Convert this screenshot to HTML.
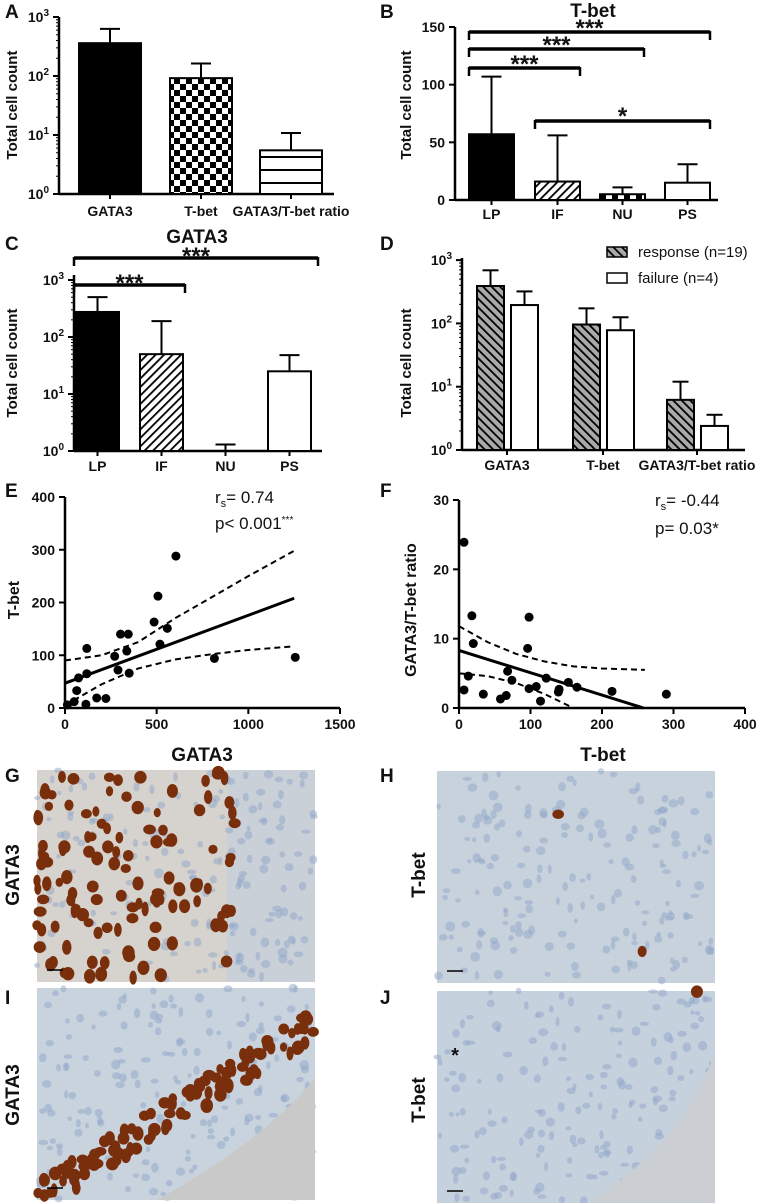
<!DOCTYPE html>
<html><head><meta charset="utf-8"><style>
body{margin:0;background:#fff}
svg{display:block}
text{font-family:"Liberation Sans Narrow","Liberation Sans",sans-serif;font-weight:bold;fill:#111}
.lt{font-family:"Liberation Sans",sans-serif;font-weight:bold}
.nw{font-family:"Liberation Sans Narrow","Liberation Sans",sans-serif;font-weight:normal}
</style></head><body>
<svg id="fig" width="761" height="1203" viewBox="0 0 761 1203">
<defs>
<pattern id="checker" width="12" height="12" patternUnits="userSpaceOnUse"><rect width="12" height="12" fill="#fff"/><rect width="6" height="6" fill="#000"/><rect x="6" y="6" width="6" height="6" fill="#000"/></pattern>
<pattern id="hstripe" width="10" height="13" patternUnits="userSpaceOnUse"><rect width="10" height="13" fill="#fff"/><rect y="0" width="10" height="2" fill="#000"/></pattern>
<pattern id="hatch" width="6" height="6" patternUnits="userSpaceOnUse" patternTransform="rotate(45)"><rect width="6" height="6" fill="#fff"/><rect width="1.8" height="6" fill="#000"/></pattern>
<pattern id="ghatch" width="6" height="6" patternUnits="userSpaceOnUse" patternTransform="rotate(-45)"><rect width="6" height="6" fill="#aaa"/><rect width="1.8" height="6" fill="#000"/></pattern>
<pattern id="nupat" width="12" height="12" patternUnits="userSpaceOnUse"><rect width="12" height="12" fill="#fff"/><rect width="6" height="12" fill="#000"/></pattern>
</defs>
<g id="layer"></g>
</svg>
<script>
// ---- Panel A data ----
const aCats=["GATA3","T-bet","GATA3/T-bet ratio"];
const aVals=[360,92,5.5];
const aErr=[630,163,10.8];
// ---- Panel B data ----
const bCats=["LP","IF","NU","PS"];
const bVals=[57,16,5,15];
const bErr=[107,56,11,31];
const bTicks=[0,50,100,150];
// ---- Panel C data ----
const cCats=["LP","IF","NU","PS"];
const cVals=[275,50,0,25];
const cErr=[500,190,1.3,48];
// ---- Panel D data ----
const dCats=["GATA3","T-bet","GATA3/T-bet ratio"];
const dResp=[390,96,6.2];
const dRespErr=[690,173,12];
const dFail=[195,78,2.4];
const dFailErr=[320,125,3.6];
// ---- Panel E data ----
const eX=[605,507,486,558,303,345,337,518,271,289,350,119,119,74,64,173,223,50,114,13,815,1256];
const eY=[288,212,163,151,140,140,108,121,98,72,66,113,65,57,33,19,18,12,7,6,94,96];
const eFit=[[0,47],[1250,208]];
const eBandX=[0,200,400,600,800,1000,1250];
const eUpper=[90,100,125,170,210,250,298];
const eLower=[5,45,75,92,102,110,117];
const eXTicks=[0,500,1000,1500];
const eYTicks=[0,100,200,300,400];
// ---- Panel F data ----
const fX=[7,18,20,98,96,68,13,7,34,58,66,74,98,108,114,122,139,140,153,165,214,290];
const fY=[23.9,13.3,9.3,13.1,8.6,5.3,4.6,2.6,2.0,1.3,1.8,4.0,2.8,3.1,1.0,4.3,2.3,2.7,3.7,3.0,2.4,2.0];
const fFit=[[0,8.3],[258,0]];
const fBandX=[0,40,80,120,160,200,260];
const fUpper=[11.8,9.5,7.8,6.7,6.0,5.7,5.5];
const fLowX=[0,40,80,120,160];
const fLower=[5,4.6,3.6,2.0,0];
const fXTicks=[0,100,200,300,400];
const fYTicks=[0,10,20,30];

const NS="http://www.w3.org/2000/svg";
const L=document.getElementById('layer');
function mk(tag,at,parent){const e=document.createElementNS(NS,tag);for(const k in at)e.setAttribute(k,at[k]);(parent||L).appendChild(e);return e;}
function txt(x,y,s,size,anchor,cls,rot){const t=mk('text',{x:x,y:y,'font-size':size,'text-anchor':anchor||'middle'});if(cls)t.setAttribute('class',cls);if(rot)t.setAttribute('transform','rotate(-90 '+x+' '+y+')');t.textContent=s;return t;}
function line(x1,y1,x2,y2,w){return mk('line',{x1:x1,y1:y1,x2:x2,y2:y2,stroke:'#000','stroke-width':w||2});}
function logTicks(x0,yAt,maxExp){for(let e=0;e<=maxExp;e++){const y=yAt(Math.pow(10,e));line(x0-6,y,x0,y,2);
 const t=txt(x0-10,y+5,'10',14,'end');const s=document.createElementNS(NS,'tspan');s.setAttribute('dy','-6');s.setAttribute('font-size','10');s.textContent=e;t.appendChild(s);
 if(e<maxExp)for(let m=2;m<=9;m++){line(x0-3,yAt(m*Math.pow(10,e)),x0,yAt(m*Math.pow(10,e)),1);} }}
function bar(x,w,y,yb,fill,name){const r=mk('rect',{x:x,y:y,width:w,height:Math.max(0,yb-y),fill:fill,stroke:'#000','stroke-width':2});return r;}
function err(cx,ytop,yerr,cap){line(cx,ytop,cx,yerr,2);line(cx-cap,yerr,cx+cap,yerr,2);}
function bracket(x1,x2,y,stars,ys){line(x1,y,x2,y,3.5);line(x1,y-1,x1,y+8,2.5);line(x2,y-1,x2,y+8,2.5);const t=txt((x1+x2)/2,ys,stars,24,'middle','lt');}

// Panel letters
[['A',5,18],['B',380,18],['C',5,250],['D',380,250],['E',5,497],['F',380,497],['G',5,782],['H',380,782],['I',5,1004],['J',380,1004]].forEach(p=>{const t=txt(p[1],p[2],p[0],19,'start','lt');});

// ===== Panel A =====
(function(){const x0=59,yb=194,dec=59;const yAt=v=>yb-Math.log10(v)*dec;
 line(x0,17,x0,yb+1,2.5);line(x0,yb,334,yb,2.5);logTicks(x0,yAt,3);
 const xs=[79,170,260],w=62,fills=['#000','url(#checker)','url(#hstripe)'];
 aCats.forEach((c,i)=>{err(xs[i]+w/2,yAt(aVals[i]),yAt(aErr[i]),10);bar(xs[i],w,yAt(aVals[i]),yb,fills[i],'bar-a-'+i);line(xs[i]+w/2,yb,xs[i]+w/2,yb+5,2);const t=txt(xs[i]+w/2,216,c,14);});
 const yt=txt(17,105,'Total cell count',15,'middle','lt',true);
})();

// ===== Panel B =====
(function(){const x0=455,yb=200,ytop=27;const yAt=v=>yb-v/150*(yb-ytop);
 line(x0,ytop,x0,yb+1,2.5);line(x0,yb,718,yb,2.5);
 bTicks.forEach(v=>{line(x0-6,yAt(v),x0,yAt(v),2);txt(x0-10,yAt(v)+5,v,14,'end');});
 const xs=[469,535,600,665],w=45,fills=['#000','url(#hatch)','url(#nupat)','#fff'];
 bCats.forEach((c,i)=>{err(xs[i]+w/2,yAt(bVals[i]),yAt(bErr[i]),10);bar(xs[i],w,yAt(bVals[i]),yb,fills[i],'bar-b-'+c.toLowerCase());line(xs[i]+w/2,yb,xs[i]+w/2,yb+5,2);txt(xs[i]+w/2,219,c,14);});
 const tt=txt(593,17,'T-bet',19,'middle','lt');
 bracket(469,710,32,'***',36);bracket(469,644,49,'***',53);bracket(469,580,68,'***',72);bracket(535,710,121,'*',124);
 txt(411,105,'Total cell count',15,'middle','lt',true);
})();

// ===== Panel C =====
(function(){const x0=74,yb=451,dec=57;const yAt=v=>yb-Math.log10(v)*dec;
 line(x0,275,x0,yb+1,2.5);line(x0,yb,322,yb,2.5);logTicks(x0,yAt,3);
 const xs=[76,140,204,268],w=43,fills=['#000','url(#hatch)','#fff','#fff'];
 cCats.forEach((c,i)=>{if(cVals[i]>1){err(xs[i]+w/2,yAt(cVals[i]),yAt(cErr[i]),10);bar(xs[i],w,yAt(cVals[i]),yb,fills[i],'bar-c-'+c.toLowerCase());}else{err(xs[i]+w/2,yb,yAt(cErr[i]),10);}line(xs[i]+w/2,yb,xs[i]+w/2,yb+5,2);txt(xs[i]+w/2,471,c,14);});
 txt(197,243,'GATA3',19,'middle','lt');
 bracket(74,318,258,'***',264);bracket(74,185,285,'***',291);
 txt(17,363,'Total cell count',15,'middle','lt',true);
})();

// ===== Panel D =====
(function(){const x0=462,yb=450,dec=63.3;const yAt=v=>yb-Math.log10(v)*dec;
 line(x0,258,x0,yb+1,2.5);line(x0,yb,745,yb,2.5);logTicks(x0,yAt,3);
 const gx=[477,573,667],w=27;
 dCats.forEach((c,i)=>{const x=gx[i];
  err(x+w/2,yAt(dResp[i]),yAt(dRespErr[i]),8);bar(x,w,yAt(dResp[i]),yb,'url(#ghatch)','bar-d-response');
  const xf=x+34;err(xf+w/2,yAt(dFail[i]),yAt(dFailErr[i]),8);bar(xf,w,yAt(dFail[i]),yb,'#fff','bar-d-failure');
  line(x+30,yb,x+30,yb+5,2);txt(x+30,470,c,14);});
 const l1=mk('rect',{x:607,y:247,width:20,height:10,fill:'url(#ghatch)',stroke:'#000','stroke-width':1.5});
 const l2=mk('rect',{x:607,y:273,width:20,height:10,fill:'#fff',stroke:'#000','stroke-width':1.5});
 txt(638,257,'response (n=19)',15,'start','nw');txt(638,283,'failure (n=4)',15,'start','nw');
 txt(411,363,'Total cell count',15,'middle','lt',true);
})();

// ===== Panel E =====
(function(){const x0=65,x1=340,yb=708,yt=497;const X=v=>x0+v/1500*(x1-x0),Y=v=>yb-v/400*(yb-yt);
 line(x0,yt,x0,yb+1,2.5);line(x0,yb,x1,yb,2.5);
 eXTicks.forEach(v=>{line(X(v),yb,X(v),yb+6,2);txt(X(v),729,v,14);});
 eYTicks.forEach(v=>{line(x0-6,Y(v),x0,Y(v),2);txt(x0-10,Y(v)+5,v,14,'end');});
 eX.forEach((v,i)=>{const c=mk('circle',{cx:X(v),cy:Y(eY[i]),r:4.5,fill:'#000'});});
 line(X(eFit[0][0]),Y(eFit[0][1]),X(eFit[1][0]),Y(eFit[1][1]),3);
 mk('polyline',{points:eBandX.map((v,i)=>X(v)+','+Y(eUpper[i])).join(' '),fill:'none',stroke:'#000','stroke-width':2,'stroke-dasharray':'6 4'});
 mk('polyline',{points:eBandX.map((v,i)=>X(v)+','+Y(eLower[i])).join(' '),fill:'none',stroke:'#000','stroke-width':2,'stroke-dasharray':'6 4'});
 const t=txt(215,503,'r',17,'start','nw');const s=document.createElementNS(NS,'tspan');s.setAttribute('dy','4');s.setAttribute('font-size','11');s.textContent='s';t.appendChild(s);const s2=document.createElementNS(NS,'tspan');s2.setAttribute('dy','-4');s2.textContent='= 0.74';t.appendChild(s2);
 const p=txt(215,529,'p< 0.001',17,'start','nw');const s3=document.createElementNS(NS,'tspan');s3.setAttribute('dy','-6');s3.setAttribute('font-size','10');s3.textContent='***';p.appendChild(s3);
 txt(19,600,'T-bet',16,'middle','lt',true);
})();

// ===== Panel F =====
(function(){const x0=459,x1=745,yb=708,yt=500;const X=v=>x0+v/400*(x1-x0),Y=v=>yb-v/30*(yb-yt);
 line(x0,yt,x0,yb+1,2.5);line(x0,yb,x1,yb,2.5);
 fXTicks.forEach(v=>{line(X(v),yb,X(v),yb+6,2);txt(X(v),729,v,14);});
 fYTicks.forEach(v=>{line(x0-6,Y(v),x0,Y(v),2);txt(x0-10,Y(v)+5,v,14,'end');});
 fX.forEach((v,i)=>{const c=mk('circle',{cx:X(v),cy:Y(fY[i]),r:4.5,fill:'#000'});});
 line(X(fFit[0][0]),Y(fFit[0][1]),X(fFit[1][0]),Y(fFit[1][1]),3);
 mk('polyline',{points:fBandX.map((v,i)=>X(v)+','+Y(fUpper[i])).join(' '),fill:'none',stroke:'#000','stroke-width':2,'stroke-dasharray':'6 4'});
 mk('polyline',{points:fLowX.map((v,i)=>X(v)+','+Y(fLower[i])).join(' '),fill:'none',stroke:'#000','stroke-width':2,'stroke-dasharray':'6 4'});
 const t=txt(655,506,'r',17,'start','nw');const s=document.createElementNS(NS,'tspan');s.setAttribute('dy','4');s.setAttribute('font-size','11');s.textContent='s';t.appendChild(s);const s2=document.createElementNS(NS,'tspan');s2.setAttribute('dy','-4');s2.textContent='= -0.44';t.appendChild(s2);
 txt(655,534,'p= 0.03*',17,'start','nw');
 txt(416,610,'GATA3/T-bet ratio',16,'middle','lt',true);
})();

// ===== Histology panels =====
txt(202,761,'GATA3',19,'middle','lt');txt(603,761,'T-bet',19,'middle','lt');
const imgs=[{n:'micrograph-g',x:37,y:770,bg:'#d6d2cd',brown:120,side:'left'},{n:'micrograph-h',x:437,y:771,bg:'#c8d2dc',brown:2,side:'none'},{n:'micrograph-i',x:37,y:988,bg:'#c8d3de',brown:110,side:'bottom'},{n:'micrograph-j',x:437,y:991,bg:'#c6d1de',brown:1,side:'none'}];
let seed=7;function rnd(){seed=(seed*16807)%2147483647;return seed/2147483647;}
imgs.forEach(im=>{const g=mk('g',{});
 mk('rect',{x:im.x,y:im.y,width:278,height:212,fill:im.bg},g);
 if(im.side==='left')mk('rect',{x:im.x+190,y:im.y,width:88,height:212,fill:'#c9d0d8'},g);
 for(let k=0;k<180;k++){mk('ellipse',{cx:im.x+rnd()*278,cy:im.y+rnd()*212,rx:2+rnd()*3,ry:2+rnd()*3,fill:'#8fa6c8',opacity:0.5},g);}
 if(im.side==='bottom')mk('path',{d:'M'+(im.x+120)+','+(im.y+212)+' Q'+(im.x+230)+','+(im.y+150)+' '+(im.x+278)+','+(im.y+90)+' L'+(im.x+278)+','+(im.y+212)+' Z',fill:'#c9c9c9'},g);
 if(im.n==='micrograph-j')mk('path',{d:'M'+(im.x+150)+','+(im.y+212)+' Q'+(im.x+250)+','+(im.y+150)+' '+(im.x+278)+','+(im.y+60)+' L'+(im.x+278)+','+(im.y+212)+' Z',fill:'#cbced2'},g);
 for(let k=0;k<im.brown;k++){let cx,cy;
  if(im.side==='left'){cx=im.x+Math.pow(rnd(),1.3)*200;cy=im.y+rnd()*212;}
  else if(im.side==='bottom'){const t=rnd();cx=im.x+t*278;cy=im.y+205-t*175+(rnd()*30-10);if(cy>im.y+208)cy=im.y+205;}
  else {cx=im.x+rnd()*278;cy=im.y+rnd()*212;}
  mk('ellipse',{cx:cx,cy:cy,rx:3.5+rnd()*3,ry:4.5+rnd()*3,fill:'#7a2f0c'},g);}
 mk('line',{x1:im.x+10,y1:im.y+200,x2:im.x+26,y2:im.y+200,stroke:'#000','stroke-width':1.5},g);
});
txt(455,1062,'*',20,'middle','lt');
txt(19,875,'GATA3',19,'middle','lt',true);txt(425,875,'T-bet',19,'middle','lt',true);
txt(19,1095,'GATA3',19,'middle','lt',true);txt(425,1100,'T-bet',19,'middle','lt',true);
</script>
</body></html>
